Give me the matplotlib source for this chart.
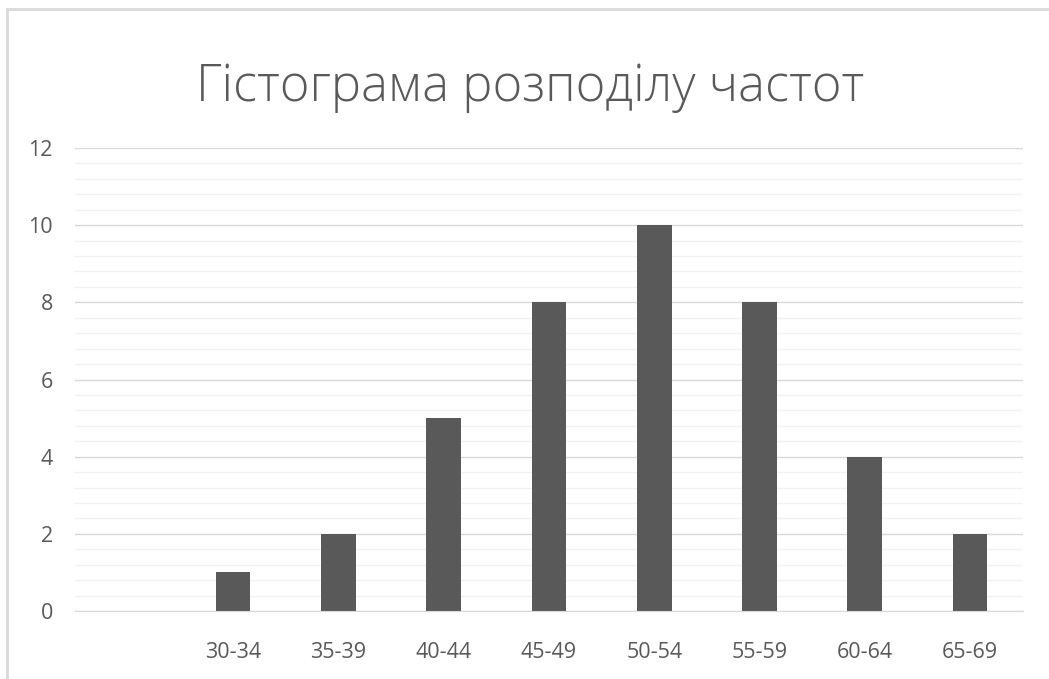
import matplotlib.pyplot as plt
from matplotlib.patches import Rectangle
from matplotlib.ticker import MultipleLocator

# age groups (first slot is an empty category) and their counts
groups = ['', '30-34', '35-39', '40-44', '45-49', '50-54', '55-59', '60-64', '65-69']
counts = [0, 1, 2, 5, 8, 10, 8, 4, 2]
title = 'Гістограма розподілу частот'

plt.rcParams['font.family'] = ['Open Sans', 'DejaVu Sans']
text_color = '#595959'

fig = plt.figure(figsize=(10.49, 6.79), dpi=100)
ax = fig.add_axes([0.0715, 0.1001, 0.9035, 0.6819])

x = range(len(groups))
ax.bar(x, counts, width=0.33, color='#595959', zorder=3)

ax.set_xlim(-0.5, len(groups) - 0.5)
ax.set_ylim(0, 12)
ax.yaxis.set_major_locator(MultipleLocator(2))
ax.yaxis.set_minor_locator(MultipleLocator(0.4))
ax.grid(which='major', axis='y', color='#d9d9d9', linewidth=1.0, zorder=0)
ax.grid(which='minor', axis='y', color='#f2f2f2', linewidth=1.0, zorder=0)

ax.set_xticks(list(x))
ax.set_xticklabels(groups)
ax.tick_params(axis='both', which='both', length=0, labelsize=15.5,
               labelcolor=text_color)
ax.tick_params(axis='y', pad=16)
ax.tick_params(axis='x', pad=22)

for s in ['top', 'right', 'left']:
    ax.spines[s].set_visible(False)
ax.spines['bottom'].set_color('#d9d9d9')
ax.spines['bottom'].set_zorder(4)

fig.text(0.505, 0.872, title, ha='center', va='center', fontsize=36.5,
         color=text_color, fontweight='light')

# chart frame, cut off at the right and bottom edges
fig.patches.append(Rectangle((7 / 1049, -0.1), 1.2, 1 - 9 / 679 + 0.1,
                             transform=fig.transFigure, fill=False,
                             edgecolor='#d9d9d9', linewidth=2))

fig.savefig('out.png', dpi=100)
